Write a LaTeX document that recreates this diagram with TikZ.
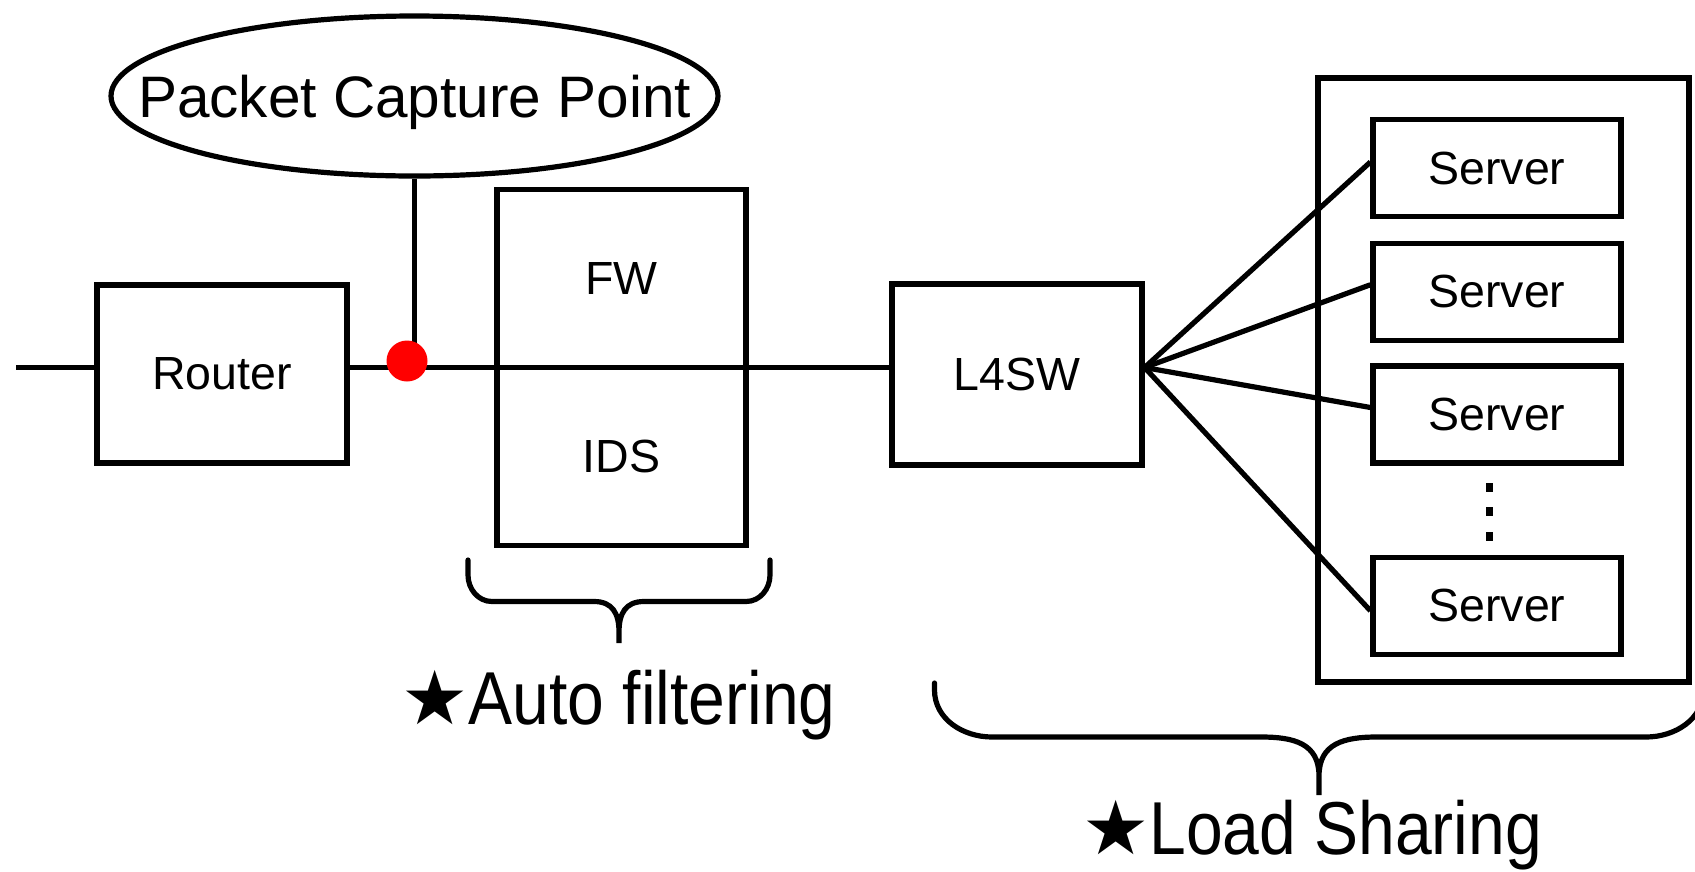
\documentclass[tikz,border=0pt]{standalone}
\usepackage{fontspec}
\setmainfont{Liberation Sans}
\newfontfamily\labelfont[FakeStretch=0.88]{Liberation Sans}
\newfontfamily\starfont{DejaVu Sans}
\usetikzlibrary{shapes.geometric}

\begin{document}
\begin{tikzpicture}[x=1pt, y=-1pt, line width=5.2pt,
  box/.style={draw, rectangle, inner sep=0pt, line width=5.2pt,
    font=\fontsize{46.5}{50}\selectfont},
  dev/.style={box, minimum width=250pt, minimum height=178pt},
  half/.style={box, minimum width=249pt, minimum height=178pt},
  srv/.style={box, minimum width=248pt, minimum height=97pt},
  wire/.style={draw, line width=5.2pt},
  bigtext/.style={inner sep=0pt, anchor=base, font=\fontsize{75}{80}\selectfont}]

\clip (0,0) rectangle (1695,871);

% devices along the main line
\node[dev] (router) at (222,374) {Router};
\node[half] (fw)  at (621.5,278.5) {FW};
\node[half] (ids) at (621.5,456.5) {IDS};
\node[dev, minimum height=181pt] (l4sw) at (1017,374.5) {L4SW};

% server group
\node[box, minimum width=371pt, minimum height=604pt] (farm) at (1503.5,380) {};
\node[srv] (s1) at (1497,168)    {Server};
\node[srv] (s2) at (1497,291.75) {Server};
\node[srv] (s3) at (1497,414.5)  {Server};
\node[srv] (s4) at (1497,605.75) {Server};
\foreach \yy in {487,511.5,536}
  \fill (1485.5,\yy-4.5) rectangle (1492.5,\yy+4.5);

% capture point callout
\node[draw, ellipse, line width=5.2pt, minimum width=607pt, minimum height=160pt,
      inner sep=0pt] (pcp) at (414.5,96) {};
\node[inner sep=0pt, anchor=base, font=\fontsize{58.5}{62}\selectfont]
      (pcptext) at (414.5,117) {Packet Capture Point};

% main line
\coordinate (inlet) at (16,367.5);
\coordinate (hub) at (l4sw.east |- inlet);
\draw[wire] (inlet) -- (inlet -| router.west);
\draw[wire] (router.east |- inlet) -- (l4sw.west |- inlet);
\draw[wire] (pcp.south) -- (pcp.south |- inlet);

% fan-out to servers
\draw[wire] (hub) -- ([yshift=6pt]s1.west);
\draw[wire] (hub) -- ([yshift=7pt]s2.west);
\draw[wire] (hub) -- ([yshift=7pt]s3.west);
\draw[wire] (hub) -- ([yshift=-5pt]s4.west);

% capture point marker
\node[circle, fill=red, minimum size=41pt, inner sep=0pt] (cap) at (407,361) {};

% braces
\draw[wire, line cap=round]
  (468,560) -- (468,575) to[out=-90,in=180] (492,601.5) -- (594,601.5)
  to[out=0,in=90,looseness=1.2] (619,632) -- (619,643) -- (619,632)
  to[out=90,in=180,looseness=1.2] (644,601.5) -- (746,601.5)
  to[out=0,in=-90] (770,575) -- (770,560);
\draw[wire, line cap=round]
  (934.5,683) -- (934.5,690) to[out=-90,in=180] (992,737) -- (1261,737)
  to[out=0,in=90,looseness=1.2] (1319,776) -- (1319,795) -- (1319,776)
  to[out=90,in=180,looseness=1.2] (1377,737) -- (1646,737)
  to[out=0,in=-90] (1703.5,690) -- (1703.5,683);

% captions
\node[bigtext] (autolbl) at (618.5,724) {{\starfont ★}\labelfont Auto filtering};
\node[bigtext] (loadlbl) at (1312,854) {{\starfont ★}\labelfont Load Sharing};
\end{tikzpicture}
\end{document}
